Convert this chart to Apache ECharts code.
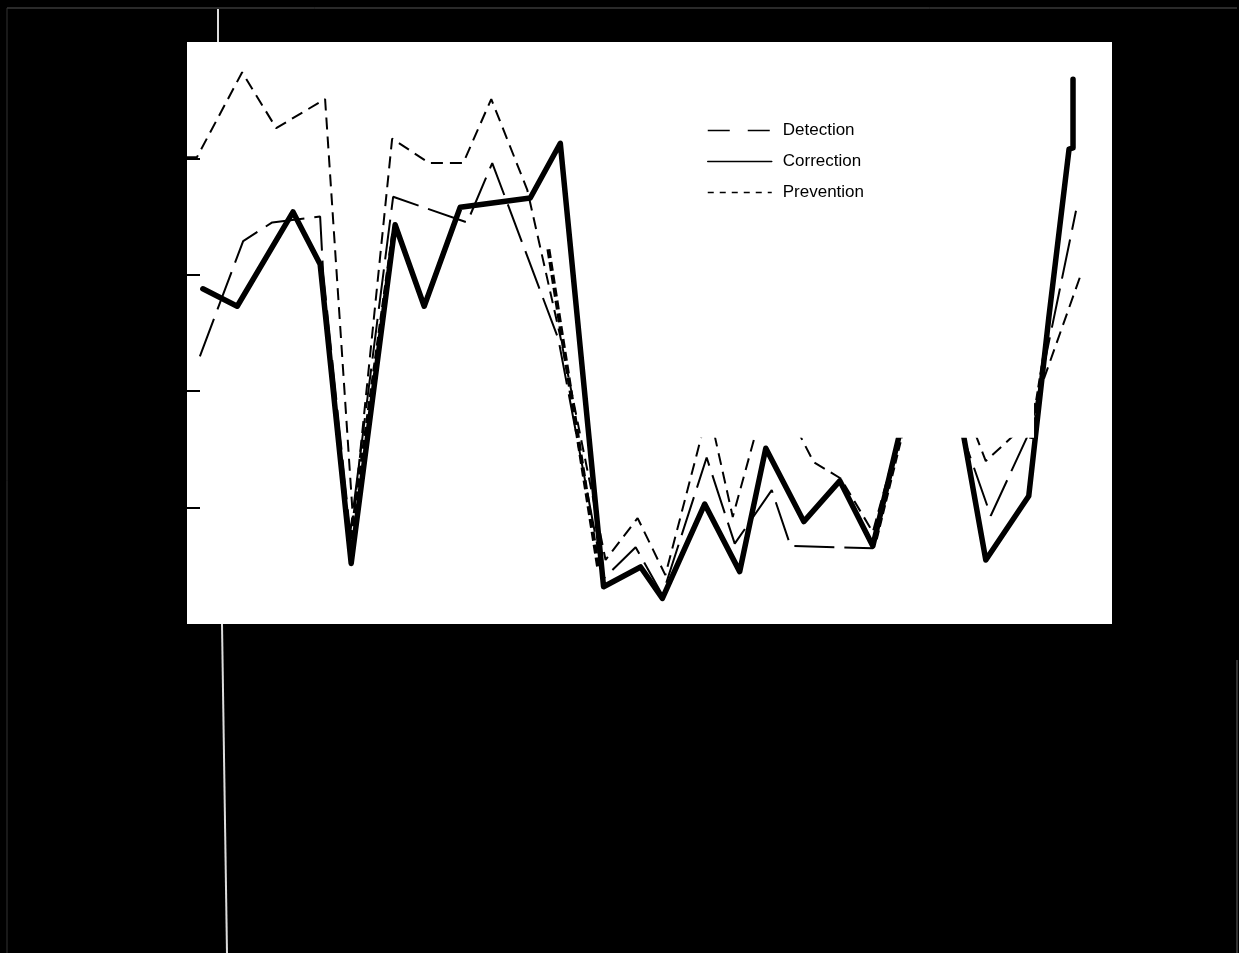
<!DOCTYPE html>
<html><head><meta charset="utf-8">
<script src="https://cdn.jsdelivr.net/npm/echarts@6/dist/echarts.min.js"></script>
<style>html,body{margin:0;padding:0;background:#000;}#c{width:1239px;height:953px;}</style>
</head><body><div id="c"></div>
<script>
const seriesNames = ['Detection', 'Correction', 'Prevention'];
const yTicks = [1, 2, 3, 4];

const detection = [
  [0.39,2.30],[1.70,3.29],[2.58,3.45],[4.03,3.50],[4.12,3.02],[4.94,0.78],
  [6.24,3.67],[8.48,3.45],[9.24,3.96],[11.24,2.45],[12.61,0.39],[13.58,0.66],
  [14.39,0.25],[15.73,1.43],[16.58,0.69],[17.70,1.15],[18.27,0.67],[20.76,0.65],
  [22.36,2.53],[24.33,0.93],[25.55,1.68],[26.91,3.55]
];
const correction = [
  [0.48,2.88],[1.52,2.73],[3.21,3.54],[4.03,3.09],[4.97,0.52],[6.30,3.43],
  [7.18,2.73],[8.27,3.58],[10.39,3.66],[11.30,4.13],[12.61,0.32],[13.73,0.49],
  [14.39,0.22],[15.67,1.03],[16.73,0.45],[17.52,1.51],[18.67,0.88],[19.76,1.23],
  [20.76,0.67],[21.55,1.61],[22.67,2.95],[24.18,0.55],[25.48,1.10],[26.09,2.64],
  [26.70,4.08],[26.82,4.09],[26.82,4.68]
];
const prevention = [
  [0.00,4.01],[0.30,4.01],[1.67,4.74],[2.70,4.26],[4.18,4.51],[5.03,0.88],
  [6.21,4.17],[7.33,3.96],[8.36,3.96],[9.21,4.51],[10.30,3.73],[11.30,2.47],
  [12.67,0.55],[13.64,0.91],[14.48,0.42],[15.79,1.85],[16.52,0.92],[17.67,2.11],
  [18.97,1.39],[19.79,1.25],[20.76,0.79],[22.52,2.62],[24.18,1.40],[25.48,1.74],
  [27.03,2.98]
];
const preventionHeavy = [
  [4.97,0.73],[6.24,3.35], null,
  [10.94,3.22],[12.45,0.48], null,
  [20.85,0.73],[21.61,1.61], null,
  [25.55,1.59],[26.03,2.45]
];

const chart = echarts.init(document.getElementById('c'));
const option = {
  backgroundColor: '#000',
  animation: false,
  grid: { left: 187, top: 42, width: 925, height: 582, show: true, backgroundColor: '#fff', borderWidth: 0 },
  xAxis: { type: 'value', min: 0, max: 28, show: false },
  yAxis: {
    type: 'value', min: 0, max: 5, interval: 1,
    axisLine: { show: false },
    axisLabel: { show: false },
    splitLine: { show: false },
    axisTick: { show: true, inside: true, length: 13, customValues: yTicks, lineStyle: { color: '#000', width: 2 } }
  },
  legend: {
    orient: 'vertical', left: 702, top: 117, z: 20,
    itemWidth: 64, itemHeight: 14, itemGap: 14,
    itemStyle: { opacity: 0 },
    textStyle: { color: '#000', fontSize: 17, fontFamily: 'Liberation Sans', padding: [0, 0, 0, 6] },
    data: [
      { name: seriesNames[0], lineStyle: { width: 1.5, type: [22, 18] } },
      { name: seriesNames[1], lineStyle: { width: 1.5 } },
      { name: seriesNames[2], lineStyle: { width: 1.5, type: [6, 6] } }
    ]
  },
  series: [
    { name: seriesNames[0], type: 'line', data: detection, symbol: 'none',
      lineStyle: { color: '#000', width: 2, type: [40, 10] } },
    { name: seriesNames[2], type: 'line', data: prevention, symbol: 'none',
      lineStyle: { color: '#000', width: 2, type: [12, 7] } },
    { name: seriesNames[2], type: 'line', data: preventionHeavy, symbol: 'none', connectNulls: false,
      lineStyle: { color: '#000', width: 4, type: [9, 4] } },
    { name: seriesNames[1], type: 'line', data: correction, symbol: 'none',
      lineStyle: { color: '#000', width: 5.5, join: 'round', cap: 'round' } }
  ]
};
chart.setOption(option);

// erased (whited-out) patch of the scanned original, placed through the axes
const p1 = chart.convertToPixel({ gridIndex: 0 }, [15.1, 1.60]);
const p2 = chart.convertToPixel({ gridIndex: 0 }, [25.64, 5]);
chart.setOption({
  graphic: [
    { type: 'rect', z: 10, shape: { x: p1[0], y: p2[1], width: p2[0] - p1[0], height: p1[1] - p2[1] }, style: { fill: '#fff' } },
    { type: 'line', z: 10, shape: { x1: 218, y1: 9, x2: 218, y2: 42 }, style: { stroke: '#ddd', lineWidth: 2 } },
    { type: 'line', z: 10, shape: { x1: 222, y1: 624, x2: 227, y2: 953 }, style: { stroke: '#ddd', lineWidth: 2 } },
    { type: 'line', z: 10, shape: { x1: 7, y1: 8, x2: 1237, y2: 8 }, style: { stroke: '#555', lineWidth: 1 } },
    { type: 'line', z: 10, shape: { x1: 7, y1: 8, x2: 7, y2: 953 }, style: { stroke: '#333', lineWidth: 1 } },
    { type: 'line', z: 10, shape: { x1: 1237, y1: 660, x2: 1237, y2: 953 }, style: { stroke: '#666', lineWidth: 1 } }
  ]
});
</script></body></html>
